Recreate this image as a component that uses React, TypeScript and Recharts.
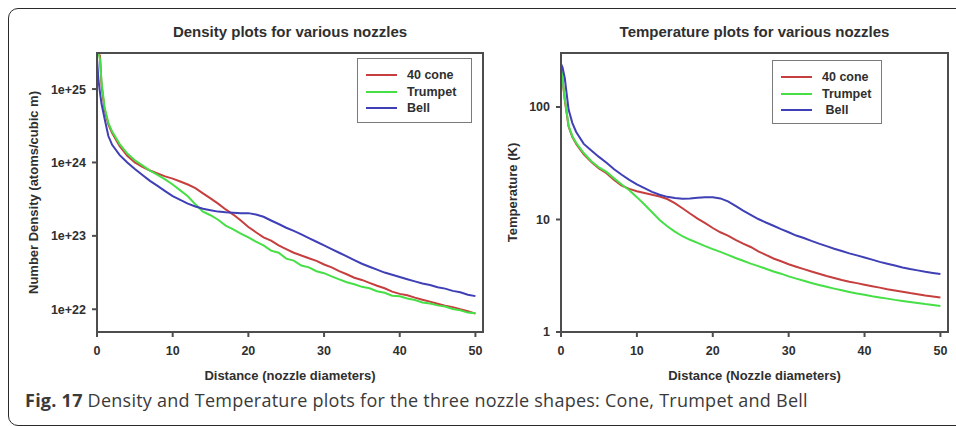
import type { CSSProperties } from "react";
import { Label, Legend, Line, LineChart, XAxis, YAxis } from "recharts";

const FONT = '"Liberation Sans", Arial, Helvetica, sans-serif';
const INK = "#2f2f2f";
const AXIS = "#4d4d4d";

const SERIES_COLORS = {
  cone: "#c63f3f",
  trumpet: "#46df46",
  bell: "#3f3fb6",
};
const SERIES_ORDER = ["cone", "trumpet", "bell"];

// Number density (atoms per cubic metre) against distance in nozzle diameters
const DENSITY_DISTANCE = [
  0, 0.2, 0.4, 0.6, 1, 1.5, 2, 3, 4, 5, 6, 7, 8, 9, 10, 11, 12, 13, 14, 15, 16, 17, 18, 19, 20, 21, 22, 23,
  24, 25, 26, 27, 28, 29, 30, 31, 32, 33, 34, 35, 36, 37, 38, 39, 40, 41, 42, 43, 44, 45, 46, 47, 48, 49, 50,
];
const CONE_DENSITY = [
  3.09e25, 3.09e25, 2.82e25, 1.12e25, 5.25e24, 3.31e24, 2.51e24, 1.66e24, 1.23e24, 1.0e24, 8.71e23, 7.76e23,
  7.08e23, 6.46e23, 6.03e23, 5.5e23, 5.01e23, 4.47e23, 3.8e23, 3.24e23, 2.75e23, 2.29e23, 1.95e23, 1.62e23,
  1.32e23, 1.12e23, 9.55e22, 8.6e22, 7.41e22, 6.61e22, 5.89e22, 5.4e22, 4.95e22, 4.57e22, 4.07e22, 3.72e22,
  3.31e22, 3.0e22, 2.69e22, 2.51e22, 2.29e22, 2.09e22, 1.93e22, 1.74e22, 1.62e22, 1.55e22, 1.44e22, 1.35e22,
  1.27e22, 1.19e22, 1.12e22, 1.07e22, 1.0e22, 9.4e21, 8.71e21,
];
const TRUMPET_DENSITY = [
  3.09e25, 3.09e25, 2.51e25, 1.26e25, 5.62e24, 3.47e24, 2.63e24, 1.78e24, 1.32e24, 1.07e24, 9.12e23, 7.76e23,
  6.76e23, 5.89e23, 5.01e23, 4.17e23, 3.47e23, 2.69e23, 2.14e23, 1.91e23, 1.66e23, 1.38e23, 1.23e23, 1.07e23,
  9.55e22, 8.32e22, 7.41e22, 6.3e22, 5.9e22, 4.9e22, 4.6e22, 3.95e22, 3.72e22, 3.3e22, 3.1e22, 2.8e22, 2.55e22,
  2.33e22, 2.19e22, 2.02e22, 1.93e22, 1.76e22, 1.68e22, 1.53e22, 1.5e22, 1.4e22, 1.34e22, 1.24e22, 1.2e22,
  1.13e22, 1.09e22, 1.01e22, 9.7e21, 9.0e21, 8.8e21,
];
const BELL_DENSITY = [
  2.6e25, 1.3e25, 8.9e24, 6.3e24, 3.98e24, 2.29e24, 1.74e24, 1.26e24, 1.0e24, 8.13e23, 6.76e23, 5.62e23,
  4.79e23, 4.07e23, 3.47e23, 3.09e23, 2.75e23, 2.51e23, 2.34e23, 2.24e23, 2.14e23, 2.09e23, 2.07e23, 2.04e23,
  2.04e23, 1.95e23, 1.82e23, 1.62e23, 1.45e23, 1.29e23, 1.17e23, 1.05e23, 9.33e22, 8.32e22, 7.41e22, 6.61e22,
  5.89e22, 5.25e22, 4.68e22, 4.17e22, 3.8e22, 3.47e22, 3.16e22, 2.95e22, 2.75e22, 2.57e22, 2.4e22, 2.24e22,
  2.14e22, 2.0e22, 1.91e22, 1.78e22, 1.7e22, 1.58e22, 1.51e22,
];
const DENSITY_TICKS = [1e22, 1e23, 1e24, 1e25];

// Temperature (K) against distance in nozzle diameters
const TEMPERATURE_DISTANCE = [
  0, 0.2, 0.5, 1, 1.5, 2, 3, 4, 5, 6, 7, 8, 9, 10, 11, 12, 13, 14, 15, 16, 17, 18, 19, 20, 21, 22, 23, 24, 25,
  26, 27, 28, 29, 30, 31, 32, 33, 34, 35, 36, 37, 38, 39, 40, 41, 42, 43, 44, 45, 46, 47, 48, 49, 50,
];
const CONE_TEMPERATURE = [
  245, 175, 115, 67, 54, 47, 38, 32.5, 28.5, 25.8, 22.5, 20, 18.7, 17.8, 17.2, 16.6, 16, 15.2, 14, 12.6, 11.3,
  10.2, 9.3, 8.4, 7.7, 7.2, 6.6, 6.1, 5.7, 5.2, 4.85, 4.5, 4.25, 4.0, 3.8, 3.62, 3.45, 3.3, 3.15, 3.02, 2.9,
  2.8, 2.72, 2.63, 2.55, 2.48, 2.4, 2.34, 2.28, 2.22, 2.17, 2.11, 2.07, 2.03,
];
const TRUMPET_TEMPERATURE = [
  245, 175, 118, 68, 55, 48, 39, 33, 29, 26.5, 23.2, 20.5, 18.2, 15.8, 13.6, 11.6, 9.9, 8.7, 7.8, 7.1, 6.6, 6.2,
  5.8, 5.45, 5.15, 4.85, 4.55, 4.3, 4.05, 3.85, 3.65, 3.45, 3.3, 3.12, 2.98, 2.85, 2.73, 2.62, 2.52, 2.43, 2.35,
  2.27, 2.2, 2.14, 2.08, 2.03, 1.98, 1.93, 1.89, 1.85, 1.81, 1.77, 1.74, 1.7,
];
const BELL_TEMPERATURE = [
  240, 225, 180, 95, 72, 60, 47, 41, 36, 32, 28, 25, 22.5, 20.5, 19, 17.6, 16.6, 15.9, 15.5, 15.3, 15.4, 15.6,
  15.8, 15.8, 15.4, 14.5, 13.2, 12, 11, 10.1, 9.4, 8.8, 8.2, 7.7, 7.2, 6.85, 6.45, 6.1, 5.8, 5.5, 5.25, 5.0,
  4.8, 4.6, 4.4, 4.2, 4.05, 3.9, 3.75, 3.63, 3.53, 3.43, 3.35, 3.28,
];
const TEMPERATURE_TICKS = [1, 10, 100];

const DISTANCE_TICKS = [0, 10, 20, 30, 40, 50];
const DISTANCE_DOMAIN: [number, number] = [0, 51];

const CHART_HEIGHT = 400;
const MARGIN_TOP = 53;
const MARGIN_BOTTOM = 18;
const X_AXIS_HEIGHT = 50;

type Row = { distance: number; cone: number; trumpet: number; bell: number };

function buildRows(distance: number[], cone: number[], trumpet: number[], bell: number[]): Row[] {
  return distance.map((d, i) => ({ distance: d, cone: cone[i], trumpet: trumpet[i], bell: bell[i] }));
}

const densityRows = buildRows(DENSITY_DISTANCE, CONE_DENSITY, TRUMPET_DENSITY, BELL_DENSITY);
const temperatureRows = buildRows(TEMPERATURE_DISTANCE, CONE_TEMPERATURE, TRUMPET_TEMPERATURE, BELL_TEMPERATURE);

const tickStyle = { fill: INK, fontSize: 12.5, fontWeight: 700 };
const labelStyle: CSSProperties = { fill: INK, fontSize: 13, fontWeight: 700 };

type KeyEntry = { value?: string; color?: string; dataKey?: unknown };

function NozzleKey({ payload = [], rowHeight }: { payload?: KeyEntry[]; rowHeight: number }) {
  // keep the key in plotting order rather than alphabetical
  const entries = [...payload].sort(
    (a, b) => SERIES_ORDER.indexOf(String(a.dataKey)) - SERIES_ORDER.indexOf(String(b.dataKey)),
  );
  return (
    <div
      style={{
        boxSizing: "border-box",
        width: "100%",
        height: "100%",
        border: "1px solid #7a7a7a",
        padding: "8px 0 0 8px",
        fontFamily: FONT,
        fontSize: 12.5,
        fontWeight: 700,
        color: INK,
      }}
    >
      {entries.map((entry) => (
        <div key={String(entry.dataKey)} style={{ display: "flex", alignItems: "center", height: rowHeight }}>
          <span style={{ width: 31, height: 2, background: entry.color, marginRight: 10 }} />
          <span style={{ whiteSpace: "pre" }}>{entry.value}</span>
        </div>
      ))}
    </div>
  );
}

type PanelProps = {
  left: number;
  width: number;
  marginLeft: number;
  marginRight: number;
  yAxisWidth: number;
  yLabelOffset: number;
  rows: Row[];
  yDomain: [number, number];
  yTicks: number[];
  yFormat: (v: number) => string;
  title: string;
  xLabel: string;
  yLabel: string;
  keyBox: { left: number; top: number; width: number; height: number };
  bellName: string;
};

function NozzlePanel(p: PanelProps) {
  const plotLeft = p.marginLeft + p.yAxisWidth;
  const plotWidth = p.width - plotLeft - p.marginRight;
  const plotHeight = CHART_HEIGHT - MARGIN_TOP - MARGIN_BOTTOM - X_AXIS_HEIGHT;
  return (
    <div style={{ position: "absolute", left: p.left, top: 0, width: p.width, height: CHART_HEIGHT, fontFamily: FONT }}>
      <div
        style={{
          position: "absolute",
          left: plotLeft,
          width: plotWidth,
          top: 24,
          textAlign: "center",
          fontSize: 15,
          lineHeight: "15px",
          fontWeight: 700,
          color: INK,
        }}
      >
        {p.title}
      </div>
      <div style={{ position: "absolute", left: 0, top: 0 }}>
        <LineChart
          width={p.width}
          height={CHART_HEIGHT}
          data={p.rows}
          margin={{ top: MARGIN_TOP, right: p.marginRight, bottom: MARGIN_BOTTOM, left: p.marginLeft }}
        >
          <XAxis
            dataKey="distance"
            type="number"
            domain={DISTANCE_DOMAIN}
            ticks={DISTANCE_TICKS}
            allowDataOverflow
            height={X_AXIS_HEIGHT}
            tickSize={5}
            tickMargin={9}
            stroke={AXIS}
            strokeWidth={2}
            tick={tickStyle}
          >
            <Label value={p.xLabel} position="insideBottom" offset={2} style={labelStyle} />
          </XAxis>
          <YAxis
            type="number"
            scale="log"
            domain={p.yDomain}
            ticks={p.yTicks}
            allowDataOverflow
            width={p.yAxisWidth}
            tickSize={5}
            tickMargin={6}
            stroke={AXIS}
            strokeWidth={2}
            tick={tickStyle}
            tickFormatter={p.yFormat}
          >
            <Label
              value={p.yLabel}
              angle={-90}
              position="insideLeft"
              offset={p.yLabelOffset}
              style={{ ...labelStyle, textAnchor: "middle" }}
            />
          </YAxis>
          <Line
            type="linear"
            dataKey="cone"
            name="40 cone"
            stroke={SERIES_COLORS.cone}
            strokeWidth={2}
            dot={false}
            isAnimationActive={false}
          />
          <Line
            type="linear"
            dataKey="trumpet"
            name="Trumpet"
            stroke={SERIES_COLORS.trumpet}
            strokeWidth={2}
            dot={false}
            isAnimationActive={false}
          />
          <Line
            type="linear"
            dataKey="bell"
            name={p.bellName}
            stroke={SERIES_COLORS.bell}
            strokeWidth={2}
            dot={false}
            isAnimationActive={false}
          />
          <Legend
            layout="vertical"
            align="center"
            verticalAlign="middle"
            wrapperStyle={{ ...p.keyBox }}
            content={(props) => <NozzleKey payload={props.payload as never} rowHeight={16.5} />}
          />
        </LineChart>
      </div>
      {/* top and right edges of the plot box; the axes supply the other two */}
      <div
        style={{
          position: "absolute",
          left: plotLeft - 1,
          top: MARGIN_TOP - 1,
          width: plotWidth + 2,
          height: 2,
          background: AXIS,
        }}
      />
      <div
        style={{
          position: "absolute",
          left: plotLeft + plotWidth - 1,
          top: MARGIN_TOP - 1,
          width: 2,
          height: plotHeight + 2,
          background: AXIS,
        }}
      />
    </div>
  );
}

export default function App() {
  return (
    <div
      style={{
        position: "absolute",
        left: 0,
        top: 0,
        width: 956,
        height: 426,
        overflow: "hidden",
        background: "#fff",
      }}
    >
      <div
        style={{
          position: "absolute",
          left: 8,
          top: 8,
          width: 990,
          height: 418,
          border: "1.5px solid #2a2a2a",
          borderRadius: 10,
          boxSizing: "border-box",
        }}
      />
      <NozzlePanel
        left={0}
        width={490}
        marginLeft={37}
        marginRight={7}
        yAxisWidth={60}
        yLabelOffset={-4}
        rows={densityRows}
        yDomain={[4.9e21, 3.1e25]}
        yTicks={DENSITY_TICKS}
        yFormat={(v) => `1e+${Math.round(Math.log10(v))}`}
        title="Density plots for various nozzles"
        xLabel="Distance (nozzle diameters)"
        yLabel="Number Density (atoms/cubic m)"
        keyBox={{ left: 357, top: 58, width: 115, height: 65 }}
        bellName="Bell"
      />
      <NozzlePanel
        left={480}
        width={476}
        marginLeft={31}
        marginRight={8}
        yAxisWidth={50}
        yLabelOffset={1}
        rows={temperatureRows}
        yDomain={[1, 302]}
        yTicks={TEMPERATURE_TICKS}
        yFormat={(v) => String(v)}
        title="Temperature plots for various nozzles"
        xLabel="Distance (Nozzle diameters)"
        yLabel="Temperature (K)"
        keyBox={{ left: 292, top: 60, width: 110, height: 64 }}
        bellName=" Bell"
      />
      <div
        style={{
          position: "absolute",
          left: 25,
          top: 388,
          fontFamily: '"Open Sans", sans-serif',
          fontSize: 18,
          letterSpacing: 0.25,
          color: "#3a3a3a",
          whiteSpace: "nowrap",
        }}
      >
        <b>Fig. 17</b> Density and Temperature plots for the three nozzle shapes: Cone, Trumpet and Bell
      </div>
    </div>
  );
}
